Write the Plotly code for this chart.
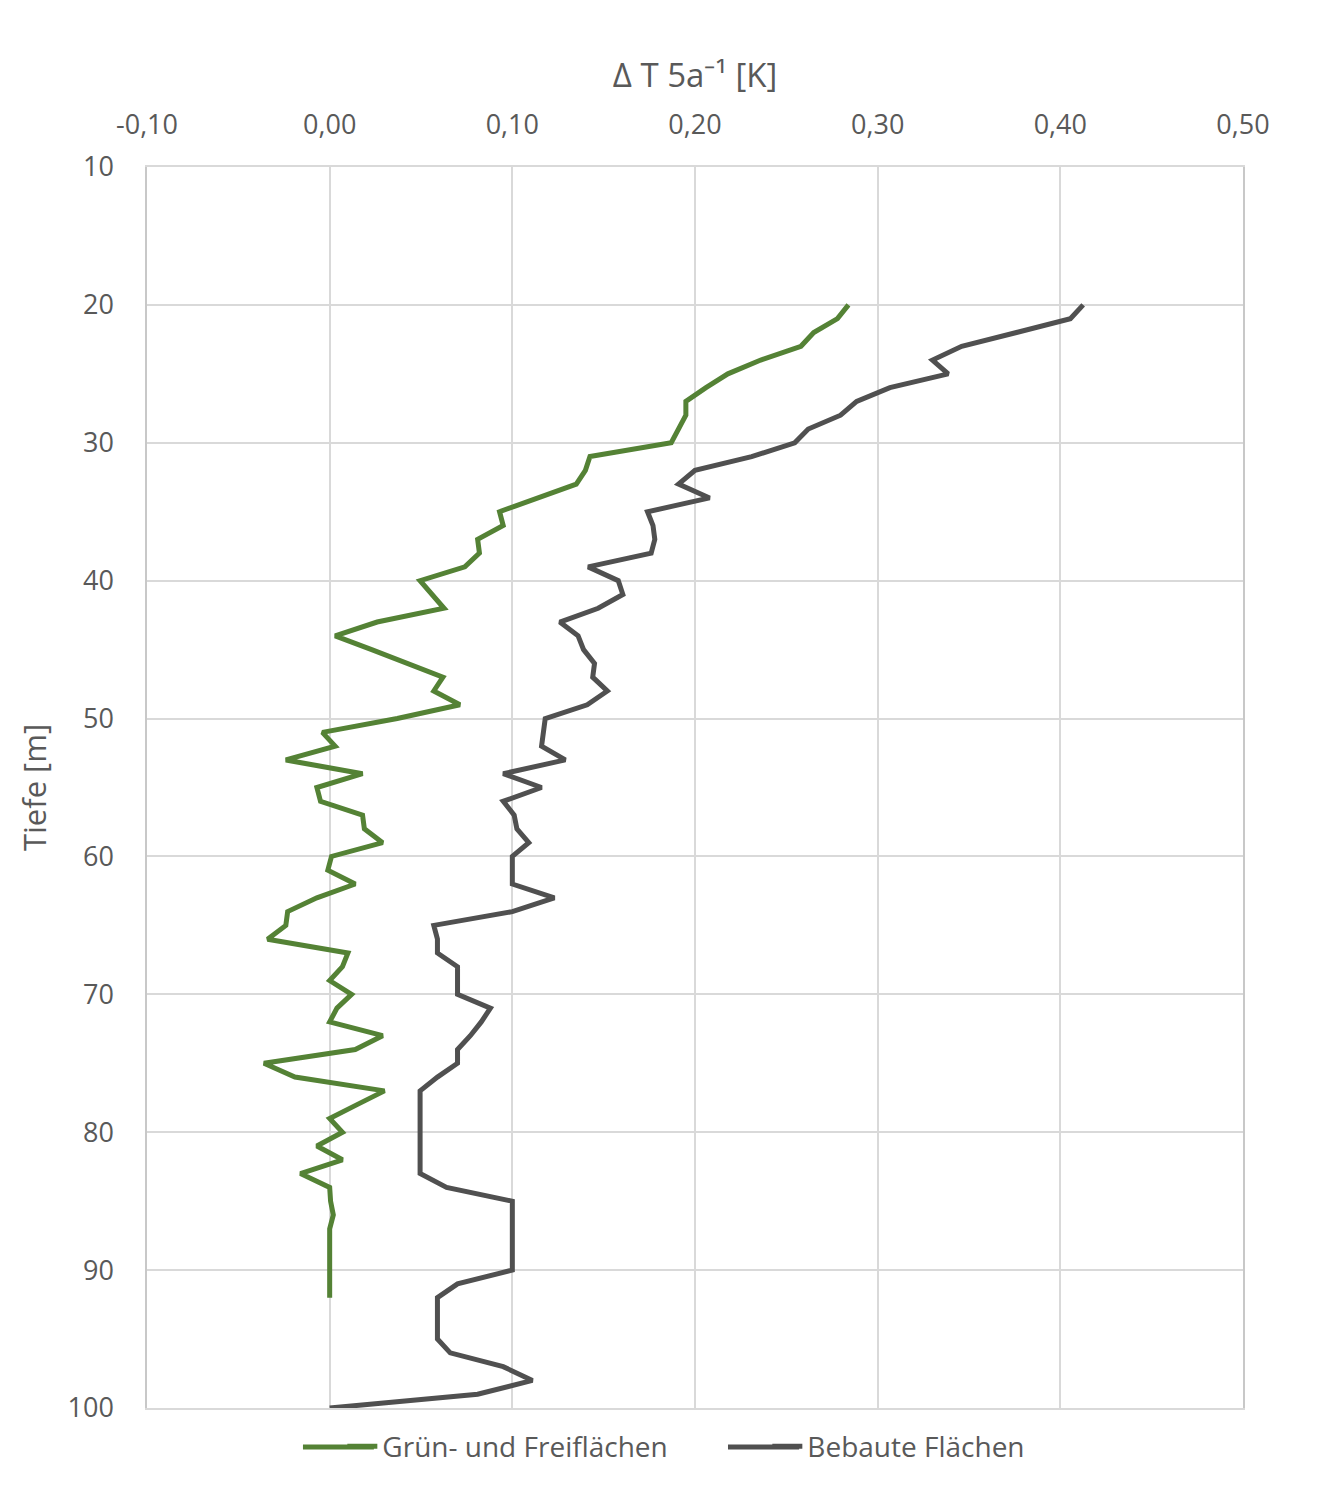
import plotly.graph_objects as go

depth_green = list(range(20, 93))
green = [0.284, 0.278, 0.265, 0.258, 0.236, 0.218, 0.206, 0.195, 0.195, 0.191,
         0.187, 0.1425, 0.140, 0.135, 0.113, 0.093, 0.095, 0.081, 0.082, 0.074,
         0.0495, 0.056, 0.0626, 0.026, 0.003, 0.023, 0.043, 0.062, 0.057, 0.0713,
         0.037, -0.004, 0.003, -0.024, 0.018, -0.007, -0.005, 0.018, 0.019, 0.029,
         0.001, -0.001, 0.014, -0.007, -0.023, -0.024, -0.034, 0.010, 0.007, 0.0,
         0.012, 0.004, 0.0, 0.029, 0.014, -0.036, -0.019, 0.030, 0.015, 0.0,
         0.007, -0.007, 0.007, -0.016, 0.0, 0.0005, 0.002, 0.0, 0.0, 0.0,
         0.0, 0.0, 0.0]

depth_gray = list(range(20, 101))
gray = [0.4125, 0.4055, 0.376, 0.346, 0.330, 0.3386, 0.3067, 0.2885, 0.2797, 0.262,
        0.2546, 0.231, 0.200, 0.191, 0.208, 0.174, 0.177, 0.178, 0.176, 0.1415,
        0.158, 0.1605, 0.147, 0.126, 0.136, 0.139, 0.145, 0.144, 0.152, 0.141,
        0.118, 0.117, 0.116, 0.129, 0.095, 0.116, 0.095, 0.101, 0.1025, 0.109,
        0.100, 0.100, 0.100, 0.123, 0.100, 0.057, 0.059, 0.059, 0.070, 0.070,
        0.070, 0.088, 0.083, 0.077, 0.070, 0.070, 0.059, 0.0495, 0.0495, 0.0495,
        0.0495, 0.0495, 0.0495, 0.0495, 0.064, 0.100, 0.100, 0.100, 0.100, 0.100,
        0.100, 0.070, 0.059, 0.059, 0.059, 0.059, 0.066, 0.095, 0.111, 0.081,
        0.0]

x_ticks = [-0.1, 0.0, 0.1, 0.2, 0.3, 0.4, 0.5]
x_ticklabels = ["-0,10", "0,00", "0,10", "0,20", "0,30", "0,40", "0,50"]
y_ticks = [10, 20, 30, 40, 50, 60, 70, 80, 90, 100]

label_color = "#595959"
grid_color = "#d9d9d9"
green_color = "#548235"
gray_color = "#505050"
font_family = "Open Sans, sans-serif"

fig = go.Figure()
fig.add_trace(go.Scatter(x=green, y=depth_green, mode="lines",
                         name="Grün- und Freiflächen",
                         line=dict(color=green_color, width=5)))
fig.add_trace(go.Scatter(x=gray, y=depth_gray, mode="lines",
                         name="Bebaute Flächen",
                         line=dict(color=gray_color, width=5)))

# longer legend line swatches (Excel-style)
legend_y = -0.0314
for x0, x1, col in [(0.1423, 0.207, green_color), (0.5301, 0.595, gray_color)]:
    fig.add_shape(type="line", xref="paper", yref="paper",
                  x0=x0, x1=x1, y0=legend_y, y1=legend_y,
                  line=dict(color=col, width=5), layer="above")

fig.update_layout(
    width=1321, height=1500,
    paper_bgcolor="white", plot_bgcolor="white",
    margin=dict(l=147, r=78, t=167, b=92),
    font=dict(family=font_family, color=label_color, size=27),
    showlegend=True,
    legend=dict(orientation="h", x=0.566, xanchor="center", y=-0.011, yanchor="top",
                bgcolor="rgba(0,0,0,0)",
                font=dict(size=28, color=label_color),
                entrywidth=380, entrywidthmode="pixels"),
    xaxis=dict(side="top", range=[-0.1, 0.5], tickvals=x_ticks, ticktext=x_ticklabels,
               showgrid=True, gridcolor=grid_color, gridwidth=1.5,
               zeroline=False, showline=True, mirror=True,
               linecolor=grid_color, linewidth=1.5,
               ticks="outside", ticklen=20, tickcolor="rgba(0,0,0,0)",
               tickfont=dict(size=27, color=label_color),
               title=dict(text="Δ T 5a⁻¹ [K]", font=dict(size=33, color=label_color),
                          standoff=8)),
    yaxis=dict(range=[100, 10], tickvals=y_ticks,
               showgrid=True, gridcolor=grid_color, gridwidth=1.5,
               zeroline=False, showline=True, mirror=True,
               linecolor="#c8c8c8", linewidth=1.5,
               ticks="outside", ticklen=26, tickcolor="rgba(0,0,0,0)",
               tickfont=dict(size=27, color=label_color),
               title=dict(text="Tiefe [m]", font=dict(size=31, color=label_color),
                          standoff=12)),
)

fig.write_html("out.html")
